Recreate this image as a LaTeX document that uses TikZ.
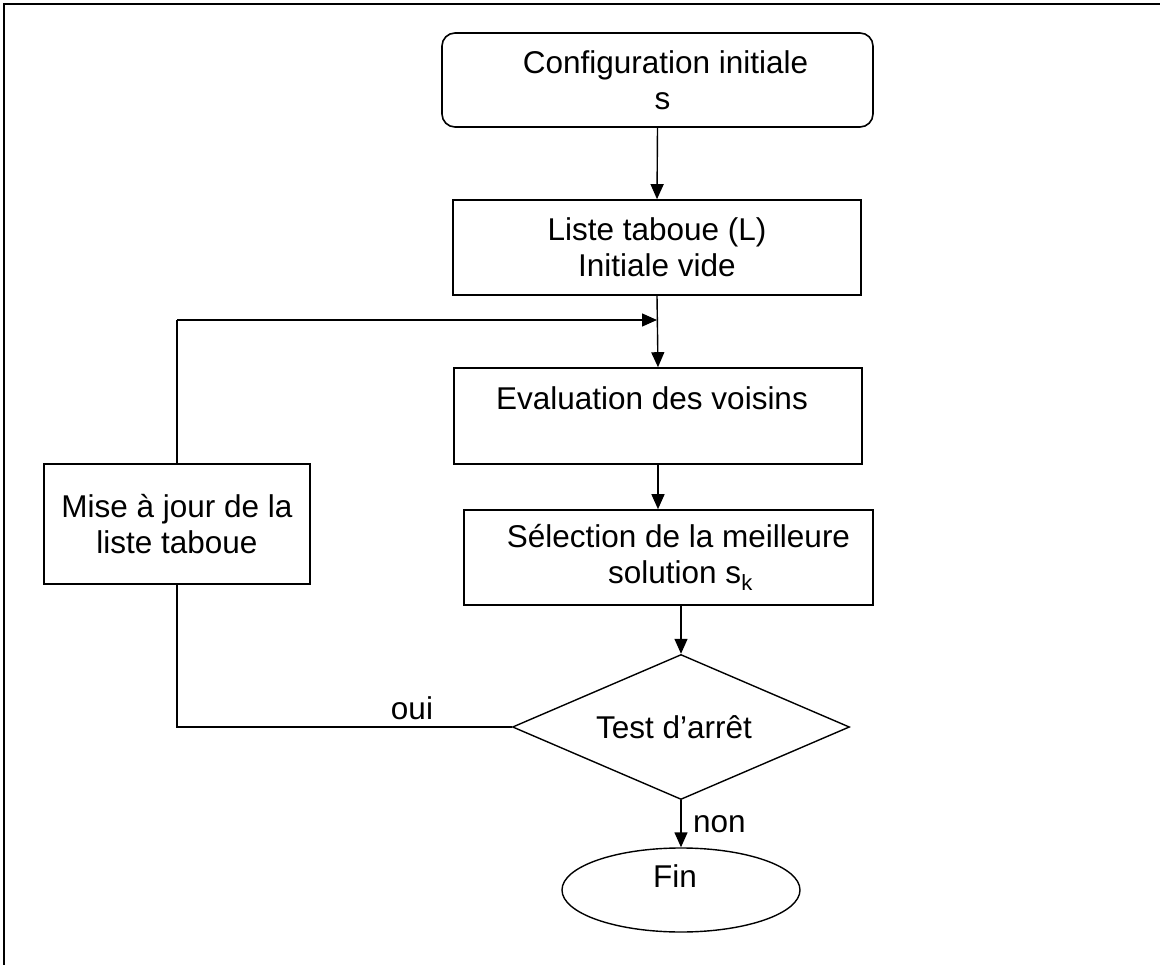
\documentclass[tikz,border=0pt]{standalone}
\usepackage{fontspec}
\setmainfont{Liberation Sans}
\usetikzlibrary{arrows.meta,shapes.geometric,calc}

\begin{document}
\begin{tikzpicture}[x=1pt,y=-1pt,
  every node/.style={font=\fontsize{31.5}{36}\selectfont},
  box/.style={draw,line width=1.6pt,rectangle,inner sep=0pt,align=center},
  link/.style={line width=1.4pt},
  arrow/.style={link,-{Triangle[length=15pt,width=13pt]}}
]
% page area and the frame along the top and left sides
\useasboundingbox (0,0) rectangle (1160,965);
\draw[line width=2.5pt] (4,965) -- (4,4) -- (1160,4);

% main column
\node[box,rounded corners=13pt,minimum width=431,minimum height=94] (init) at (657.5,80)
  {\hspace*{16pt}Configuration initiale\\\hspace*{10pt}s};
\node[box,minimum width=408,minimum height=95] (liste) at (657,247.5)
  {Liste taboue (L)\\Initiale vide};
\node[box,minimum width=408,minimum height=96] (eval) at (658,416)
  {Evaluation des voisins\hspace*{12pt}\\\mbox{}};
\node[box,minimum width=409,minimum height=95] (select) at (668.5,557.5)
  {\hspace*{20pt}Sélection de la meilleure\\\hspace*{24pt}solution s\textsubscript{k}};
\node[draw,line width=1.4pt,diamond,aspect=2.31,inner sep=0pt,
  minimum width=337,minimum height=145] (test) at (681,727) {Test d’arrêt\hspace*{14pt}};
\node[draw,line width=1.4pt,ellipse,inner sep=0pt,align=center,
  minimum width=238,minimum height=84] (fin) at (681,890) {Fin\hspace*{12pt}\\[-8pt]\mbox{}};

% update box on the loop
\node[box,minimum width=266,minimum height=120] (maj) at (177,524)
  {Mise à jour de la\\liste taboue};

% loop points
\coordinate (join) at (657,320);
\coordinate (low) at (177,727);
\coordinate (high) at (177,320);

% connectors
\draw[arrow] (init.south) -- (liste.north);
\draw[arrow] (liste.south) -- (eval.north);
\draw[arrow] (eval.south) -- (eval.south |- select.north);
\draw[arrow] (test.north |- select.south) -- (test.north);
\draw[arrow] (test.south) -- (fin.north)
  node[midway,right=8pt] (non) {non};
\draw[link] (test.west) -- (low) -- (maj.south);
\node (oui) at (412,708) {oui};
\draw[link] (maj.north) -- (high);
\draw[arrow] (high) -- (join);
\end{tikzpicture}
\end{document}
